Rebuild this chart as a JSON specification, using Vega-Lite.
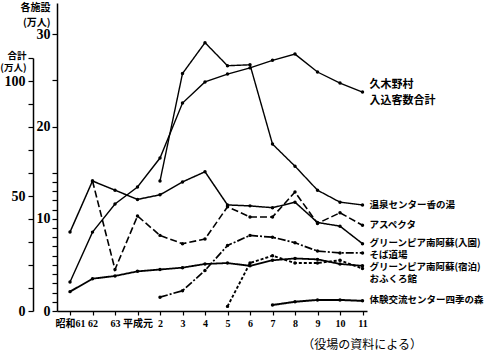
{
  "$schema": "https://vega.github.io/schema/vega-lite/v6.json",
  "width": 310,
  "height": 308,
  "autosize": "none",
  "padding": {"left": 57, "top": 3, "right": 133, "bottom": 41},
  "background": "white",
  "config": {
    "view": {"stroke": null},
    "axis": {"domainColor": "black", "tickColor": "black", "labelColor": "black", "titleColor": "black", "grid": false, "domainWidth": 1.5, "tickWidth": 1.2}
  },
  "title": {"text": "（役場の資料による）", "orient": "bottom", "anchor": "end", "frame": "group", "dx": 55, "offset": 12, "font": "Noto Sans CJK JP", "fontSize": 12, "fontWeight": "normal", "color": "black"},
  "datasets": {
    "total": [
      {"i": 0, "total": 12.6}, {"i": 1, "total": 34.3}, {"i": 2, "total": 46.5}, {"i": 3, "total": 53.9},
      {"i": 4, "total": 66.5}, {"i": 5, "total": 90.4}, {"i": 6, "total": 99.6}, {"i": 7, "total": 103},
      {"i": 8, "total": 105.7}, {"i": 9, "total": 109}, {"i": 10, "total": 111.7}, {"i": 11, "total": 103.9},
      {"i": 12, "total": 99.1}, {"i": 13, "total": 95.2}
    ],
    "totalLabel": [{"i": 13, "total": 98.3, "name": "久木野村\n入込客数合計"}],
    "fac": [
      {"i": 4, "s": "温泉センター香の湯", "v": 14.1}, {"i": 5, "s": "温泉センター香の湯", "v": 25.75}, {"i": 6, "s": "温泉センター香の湯", "v": 29.1},
      {"i": 7, "s": "温泉センター香の湯", "v": 26.6}, {"i": 8, "s": "温泉センター香の湯", "v": 26.7}, {"i": 9, "s": "温泉センター香の湯", "v": 18.1},
      {"i": 10, "s": "温泉センター香の湯", "v": 15.7}, {"i": 11, "s": "温泉センター香の湯", "v": 13.1}, {"i": 12, "s": "温泉センター香の湯", "v": 11.8},
      {"i": 13, "s": "温泉センター香の湯", "v": 11.5},
      {"i": 0, "s": "入園", "v": 8.56}, {"i": 1, "s": "入園", "v": 14.1}, {"i": 2, "s": "入園", "v": 13.1}, {"i": 3, "s": "入園", "v": 12.1},
      {"i": 4, "s": "入園", "v": 12.6}, {"i": 5, "s": "入園", "v": 14.0}, {"i": 6, "s": "入園", "v": 15.1}, {"i": 7, "s": "入園", "v": 11.5},
      {"i": 8, "s": "入園", "v": 11.4}, {"i": 9, "s": "入園", "v": 11.2}, {"i": 10, "s": "入園", "v": 11.8}, {"i": 11, "s": "入園", "v": 9.6},
      {"i": 12, "s": "入園", "v": 9.2}, {"i": 13, "s": "入園", "v": 7.3},
      {"i": 1, "s": "アスペクタ", "v": 14.1}, {"i": 2, "s": "アスペクタ", "v": 4.5}, {"i": 3, "s": "アスペクタ", "v": 10.3}, {"i": 4, "s": "アスペクタ", "v": 8.2},
      {"i": 5, "s": "アスペクタ", "v": 7.3}, {"i": 6, "s": "アスペクタ", "v": 7.8}, {"i": 7, "s": "アスペクタ", "v": 11.3}, {"i": 8, "s": "アスペクタ", "v": 10.2},
      {"i": 9, "s": "アスペクタ", "v": 10.2}, {"i": 10, "s": "アスペクタ", "v": 12.9}, {"i": 11, "s": "アスペクタ", "v": 9.5}, {"i": 12, "s": "アスペクタ", "v": 10.65},
      {"i": 13, "s": "アスペクタ", "v": 9.3},
      {"i": 4, "s": "そば道場", "v": 1.5}, {"i": 5, "s": "そば道場", "v": 2.2}, {"i": 6, "s": "そば道場", "v": 4.4}, {"i": 7, "s": "そば道場", "v": 7.1},
      {"i": 8, "s": "そば道場", "v": 8.2}, {"i": 9, "s": "そば道場", "v": 8.0}, {"i": 10, "s": "そば道場", "v": 7.4}, {"i": 11, "s": "そば道場", "v": 6.5},
      {"i": 12, "s": "そば道場", "v": 6.3}, {"i": 13, "s": "そば道場", "v": 6.3},
      {"i": 0, "s": "宿泊", "v": 2.1}, {"i": 1, "s": "宿泊", "v": 3.5}, {"i": 2, "s": "宿泊", "v": 3.8}, {"i": 3, "s": "宿泊", "v": 4.3},
      {"i": 4, "s": "宿泊", "v": 4.5}, {"i": 5, "s": "宿泊", "v": 4.7}, {"i": 6, "s": "宿泊", "v": 5.1}, {"i": 7, "s": "宿泊", "v": 5.2},
      {"i": 8, "s": "宿泊", "v": 4.9}, {"i": 9, "s": "宿泊", "v": 5.5}, {"i": 10, "s": "宿泊", "v": 5.7}, {"i": 11, "s": "宿泊", "v": 5.6},
      {"i": 12, "s": "宿泊", "v": 5.1}, {"i": 13, "s": "宿泊", "v": 4.9},
      {"i": 7, "s": "おふくろ館", "v": 0.5}, {"i": 8, "s": "おふくろ館", "v": 5.2}, {"i": 9, "s": "おふくろ館", "v": 6.0}, {"i": 10, "s": "おふくろ館", "v": 5.2},
      {"i": 11, "s": "おふくろ館", "v": 5.2}, {"i": 12, "s": "おふくろ館", "v": 5.5}, {"i": 13, "s": "おふくろ館", "v": 4.6},
      {"i": 9, "s": "四季の森", "v": 0.65}, {"i": 10, "s": "四季の森", "v": 1.0}, {"i": 11, "s": "四季の森", "v": 1.2}, {"i": 12, "s": "四季の森", "v": 1.2},
      {"i": 13, "s": "四季の森", "v": 1.1}
    ],
    "facLabels": [
      {"i": 13, "v": 11.48, "name": "温泉センター香の湯"},
      {"i": 13, "v": 9.32, "name": "アスペクタ"},
      {"i": 13, "v": 7.4, "name": "グリーンピア南阿蘇(入園)"},
      {"i": 13, "v": 6.07, "name": "そば道場"},
      {"i": 13, "v": 4.75, "name": "グリーンピア南阿蘇(宿泊)"},
      {"i": 13, "v": 3.43, "name": "おふくろ館"},
      {"i": 13, "v": 1.19, "name": "体験交流センター四季の森"}
    ]
  },
  "encoding": {
    "x": {"field": "i", "type": "quantitative",
      "scale": {"domain": [-0.578, 13.2], "nice": false, "zero": false},
      "axis": {"values": [0,1,2,3,4,5,6,7,8,9,10,11,12,13], "title": null, "tickSize": 4, "labelPadding": 3, "labelOverlap": false, "labelBound": false, "labelFlush": false,
        "labelFont": "Liberation Serif, Noto Sans CJK JP", "labelFontWeight": "bold", "labelFontSize": 10,
        "labelExpr": "['昭和61','62','63','平成元','2','3','4','5','6','7','8','9','10','11'][datum.value]"}}
  },
  "layer": [
    {
      "encoding": {
        "y": {"field": "total", "type": "quantitative",
          "scale": {"domain": [0, 110], "range": [308, 55], "nice": false},
          "axis": {"orient": "left", "offset": 24, "values": [0,10,20,30,40,50,60,70,80,90,100,110],
            "labelExpr": "datum.value % 50 === 0 ? datum.label : ''", "tickSize": 5, "labelPadding": 3,
            "labelFont": "Liberation Serif", "labelFontWeight": "bold", "labelFontSize": 14,
            "title": ["合計", "(万人)"], "titleAngle": 0, "titleAlign": "right", "titleBaseline": "middle",
            "titleX": -7, "titleY": 52, "titleFont": "Noto Sans CJK JP", "titleFontSize": 9.5, "titleFontWeight": "bold", "titleLineHeight": 12}}
      },
      "layer": [
        {"data": {"name": "total"}, "mark": {"type": "line", "color": "black", "strokeWidth": 1.4}},
        {"data": {"name": "total"}, "mark": {"type": "point", "filled": true, "color": "black", "size": 12, "opacity": 1}},
        {"data": {"name": "totalLabel"}, "mark": {"type": "text", "align": "left", "baseline": "middle", "dx": 7, "lineBreak": "\n", "lineHeight": 16,
          "font": "Noto Sans CJK JP", "fontWeight": "bold", "fontSize": 11, "color": "black"},
          "encoding": {"text": {"field": "name"}}}
      ]
    },
    {
      "encoding": {
        "y": {"field": "v", "type": "quantitative",
          "scale": {"domain": [0, 33.4], "nice": false},
          "axis": {"orient": "left", "values": [0,1,2,3,4,5,6,7,8,9,10,11,12,13,14,15,20,25,30],
            "labelExpr": "datum.value % 10 === 0 ? datum.label : ''", "tickSize": 5, "labelPadding": 2,
            "labelFont": "Liberation Serif", "labelFontWeight": "bold", "labelFontSize": 14,
            "title": ["各施設", "(万人)"], "titleAngle": 0, "titleAlign": "right", "titleBaseline": "middle",
            "titleX": -7, "titleY": 4, "titleFont": "Noto Sans CJK JP", "titleFontSize": 10, "titleFontWeight": "bold", "titleLineHeight": 15}}
      },
      "layer": [
        {"data": {"name": "fac"}, "mark": {"type": "line", "color": "black"},
          "encoding": {
            "strokeDash": {"field": "s", "type": "nominal", "legend": null,
              "scale": {"domain": ["温泉センター香の湯", "入園", "アスペクタ", "そば道場", "宿泊", "おふくろ館", "四季の森"],
                "range": [[1, 0], [1, 0], [7, 3], [8, 2, 2, 2], [1, 0], [3, 2], [1, 0]]}},
            "strokeWidth": {"field": "s", "type": "nominal", "legend": null,
              "scale": {"domain": ["温泉センター香の湯", "入園", "アスペクタ", "そば道場", "宿泊", "おふくろ館", "四季の森"],
                "range": [1.4, 2, 1.3, 1.3, 1.3, 1.3, 1.3]}}
          }},
        {"data": {"name": "fac"}, "mark": {"type": "point", "filled": true, "color": "black", "size": 12, "opacity": 1},
          "encoding": {"detail": {"field": "s"}}},
        {"data": {"name": "facLabels"}, "mark": {"type": "text", "align": "left", "baseline": "middle", "dx": 7,
          "font": "Noto Sans CJK JP", "fontWeight": "bold", "fontSize": 9.5, "color": "black"},
          "encoding": {"text": {"field": "name"}}}
      ]
    }
  ],
  "resolve": {"scale": {"y": "independent"}}
}
